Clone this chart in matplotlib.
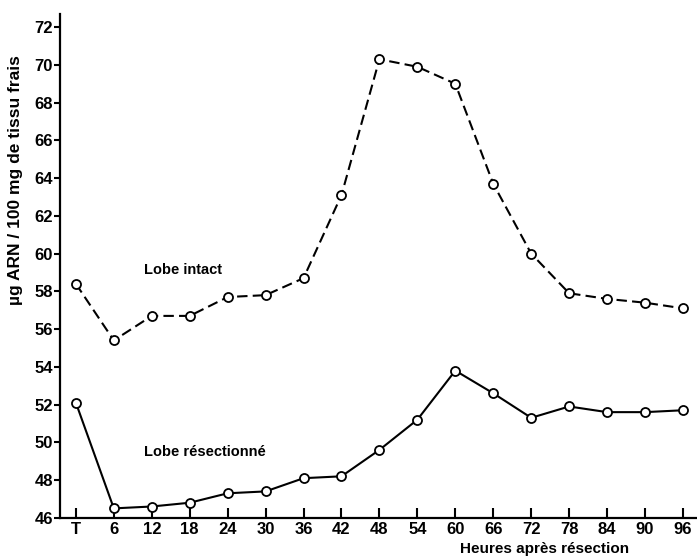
import matplotlib.pyplot as plt

# Heures apres resection (categories along x)
heures = ["T", "6", "12", "18", "24", "30", "36", "42", "48",
          "54", "60", "66", "72", "78", "84", "90", "96"]

# µg ARN / 100 mg de tissu frais
lobe_intact = [58.4, 55.4, 56.7, 56.7, 57.7, 57.8, 58.7, 63.1, 70.3,
               69.9, 69.0, 63.7, 60.0, 57.9, 57.6, 57.4, 57.1]
lobe_resectionne = [52.1, 46.5, 46.6, 46.8, 47.3, 47.4, 48.1, 48.2, 49.6,
                    51.2, 53.8, 52.6, 51.3, 51.9, 51.6, 51.6, 51.7]

y_ticks = list(range(46, 73, 2))

plt.rcParams["font.family"] = ["Liberation Sans", "DejaVu Sans"]
plt.rcParams["font.weight"] = "bold"

fig = plt.figure(figsize=(6.97, 5.58), dpi=100)
ax = fig.add_axes([0.086, 0.072, 0.914, 0.903])

pos = list(range(len(heures)))

ax.plot(pos, lobe_intact, color="black", lw=1.5, linestyle=(0, (5, 2.5)),
        marker="o", markersize=6.5, markerfacecolor="white",
        markeredgecolor="black", markeredgewidth=1.3, zorder=3)
ax.plot(pos, lobe_resectionne, color="black", lw=1.5, linestyle="-",
        marker="o", markersize=6.5, markerfacecolor="white",
        markeredgecolor="black", markeredgewidth=1.3, zorder=3)

ax.set_xlim(-0.42, len(heures) - 1 + 0.37)
ax.set_ylim(46, 72.7)

ax.set_xticks(pos)
ax.set_xticklabels(heures)
ax.set_yticks(y_ticks)
ax.set_yticklabels([str(v) for v in y_ticks])

ax.spines["top"].set_visible(False)
ax.spines["right"].set_visible(False)
ax.spines["left"].set_linewidth(1.6)
ax.spines["bottom"].set_linewidth(1.6)

ax.tick_params(axis="x", direction="in", length=7, width=1.5,
               labelsize=12, pad=3)
ax.tick_params(axis="y", direction="out", length=4, width=1.5,
               labelsize=12, pad=1)

ax.text(1.8, 58.9, "Lobe intact", fontsize=10.5, fontweight="bold")
ax.text(1.8, 49.3, "Lobe résectionné", fontsize=10.5, fontweight="bold")

fig.text(0.782, 0.003, "Heures après résection", ha="center", va="bottom",
         fontsize=11, fontweight="bold")
fig.text(0.022, 0.677, "µg ARN / 100 mg de tissu frais", rotation=90,
         ha="center", va="center", fontsize=12.5, fontweight="bold")

fig.savefig("out.png", dpi=100)
